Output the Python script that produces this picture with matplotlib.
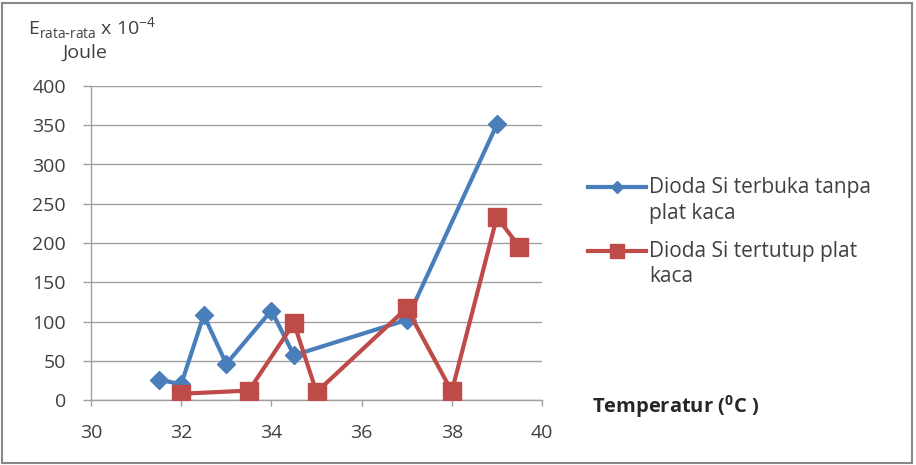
import matplotlib
matplotlib.use("Agg")
import matplotlib.pyplot as plt
from matplotlib.lines import Line2D

x_blue = [31.5, 32, 32.5, 33, 34, 34.5, 37, 39]
y_blue = [26, 20, 108, 46, 114, 57, 102, 351]
x_red = [32, 33.5, 34.5, 35, 37, 38, 39, 39.5]
y_red = [8, 12, 98, 10, 117, 11, 233, 195]
label_blue = ["Dioda Si terbuka tanpa", "plat kaca"]
label_red = ["Dioda Si tertutup plat", "kaca"]
xticks = [30, 32, 34, 36, 38, 40]
yticks = [0, 50, 100, 150, 200, 250, 300, 350, 400]

plt.rcParams['font.family'] = ['Open Sans', 'DejaVu Sans']
W, H = 916, 465
fig = plt.figure(figsize=(W/100, H/100), dpi=100)
fig.patch.set_facecolor('white')
fig.add_artist(plt.Rectangle((0.002, 0.004), 0.994, 0.99, transform=fig.transFigure,
                             fill=False, edgecolor='#888888', lw=1.5))

ax = fig.add_axes([91/W, 1-400/H, 451/W, 314/H])
blue = '#4A7EBB'
red = '#BE4B48'
ax.plot(x_blue, y_blue, color=blue, lw=3, marker='D', ms=9, zorder=3)
ax.plot(x_red, y_red, color=red, lw=3, marker='s', ms=12.5, zorder=3)

ax.set_xlim(30, 40)
ax.set_ylim(0, 400)
ax.set_xticks(xticks)
ax.set_yticks(yticks)
ax.tick_params(axis='both', labelsize=14, labelcolor='#404040', color='#A0A0A0',
               direction='out', width=1)
ax.tick_params(axis='y', length=6, pad=12)
ax.tick_params(axis='x', length=4, pad=13)
ax.grid(axis='y', color='#A0A0A0', lw=1)
ax.set_axisbelow(True)
for s in ['top', 'right']:
    ax.spines[s].set_visible(False)
for s in ['left', 'bottom']:
    ax.spines[s].set_color('#A0A0A0')
    ax.spines[s].set_linewidth(1)

fig.text(28/W, 1-35/H, r'E$_{\mathregular{rata\text{-}rata}}$ x 10$^{\mathregular{-4}}$',
         fontsize=14, color='#404040', va='baseline')
fig.text(62/W, 1-58/H, 'Joule', fontsize=14, color='#404040', va='baseline')
fig.text(592/W, 1-407/H, r'Temperatur ($^{\mathregular{0}}$C )', fontsize=14.5,
         fontweight='bold', color='#262626', va='center')

# legend drawn manually (handle aligned with first text line, as in the reference)
for (col, mk, ms, lines, ytop) in [(blue, 'D', 6, label_blue, 187), (red, 's', 10, label_red, 251)]:
    fig.add_artist(Line2D([588/W, 646/W], [1-ytop/H, 1-ytop/H], transform=fig.transFigure,
                          color=col, lw=3))
    fig.add_artist(Line2D([617/W], [1-ytop/H], transform=fig.transFigure, color=col,
                          marker=mk, ms=ms, lw=0))
    for i, t in enumerate(lines):
        fig.text(649/W, 1-(ytop + 26*i)/H, t, fontsize=15, color='#404040', va='center')

fig.savefig('out.png', dpi=100, facecolor='white')
